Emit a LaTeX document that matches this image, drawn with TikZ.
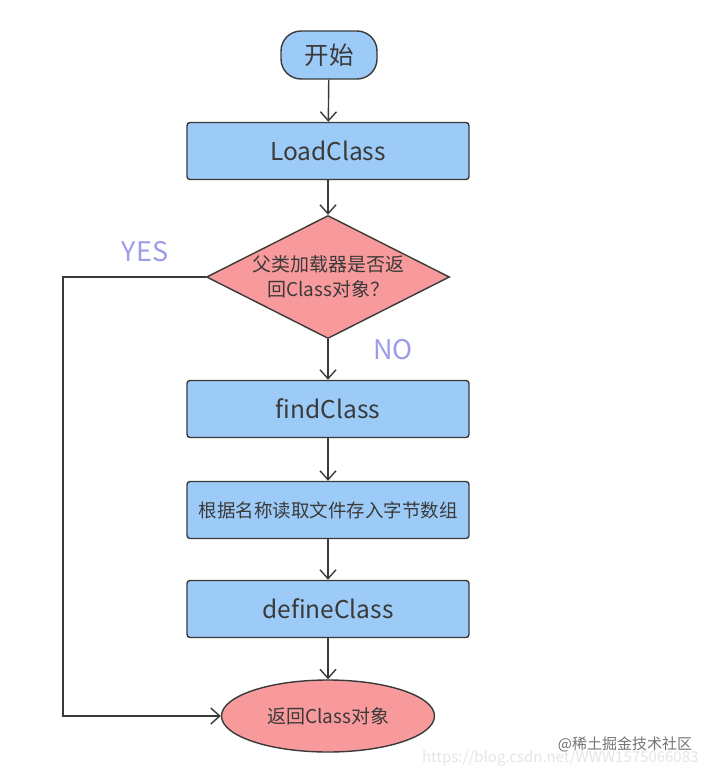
\documentclass[tikz,border=0pt]{standalone}
\usepackage{fontspec}
\setmainfont{Noto Sans CJK SC}
\usetikzlibrary{shapes.geometric,arrows.meta}
\definecolor{boxblue}{HTML}{9DCBF7}
\definecolor{boxpink}{HTML}{F89A9B}
\definecolor{edgegrey}{HTML}{3A3A3A}
\definecolor{labelblue}{HTML}{9C9CE8}
\tikzset{
  procbox/.style={draw=edgegrey, line width=1.4pt, fill=boxblue, rounded corners=3pt,
    minimum width=282pt, minimum height=57pt, inner sep=0pt, text=edgegrey},
  startbox/.style={draw=edgegrey, line width=1.4pt, fill=boxblue, rounded corners=20pt,
    minimum width=96pt, minimum height=48pt, inner sep=0pt, text=edgegrey},
  decision/.style={draw=edgegrey, line width=1.4pt, fill=boxpink, diamond, aspect=1.97,
    minimum width=243pt, minimum height=123pt, inner sep=0pt, text=edgegrey, align=center},
  endbox/.style={draw=edgegrey, line width=1.4pt, fill=boxpink, ellipse,
    minimum width=213pt, minimum height=72pt, inner sep=0pt, text=edgegrey},
  flow/.style={draw=edgegrey, line width=1.4pt, -{Straight Barb[length=9pt,width=16pt,line width=1.4pt]}},
  yesno/.style={text=labelblue, font=\fontsize{27}{30}\selectfont},
}
\begin{document}
\begin{tikzpicture}[x=1pt,y=-1pt]
\useasboundingbox (0,0) rectangle (710,774);
\node[startbox, font=\fontsize{24.5}{28}\selectfont] (start) at (329,55) {开始};
\node[procbox, font=\fontsize{24.5}{28}\selectfont] (load) at (328,151) {LoadClass};
\node[decision, font=\fontsize{19}{25}\selectfont] (dec) at (328,277) {父类加载器是否返\\回Class对象？};
\node[procbox, font=\fontsize{24.5}{28}\selectfont] (find) at (328,409) {findClass};
\node[procbox, font=\fontsize{18.5}{22}\selectfont] (read) at (328,510) {根据名称读取文件存入字节数组};
\node[procbox, font=\fontsize{24.5}{28}\selectfont] (define) at (328,609) {defineClass};
\node[endbox, font=\fontsize{19}{22}\selectfont] (ret) at (328,716) {返回Class对象};
\node[yesno] (yes) at (145,252) {YES};
\node[yesno] (no) at (393,350) {NO};
\coordinate (c1) at (63,277);
\coordinate (c2) at (63,716);
\draw[flow] (start) -- (load);
\draw[flow] (load) -- (dec);
\draw[flow] (dec) -- (find);
\draw[flow] (find) -- (read);
\draw[flow] (read) -- (define);
\draw[flow] (define) -- (ret);
\draw[flow] (dec.west) -- (c1) -- (c2) -- (ret.west);
\node[text=black!10, font=\fontsize{15}{17}\selectfont, anchor=east] (wm2) at (702,758) {https://blog.csdn.net/WWW1575066083};
\node[text=black!55, font=\fontsize{15}{17}\selectfont] (wm1) at (625,744) {@稀土掘金技术社区};
\end{tikzpicture}
\end{document}
